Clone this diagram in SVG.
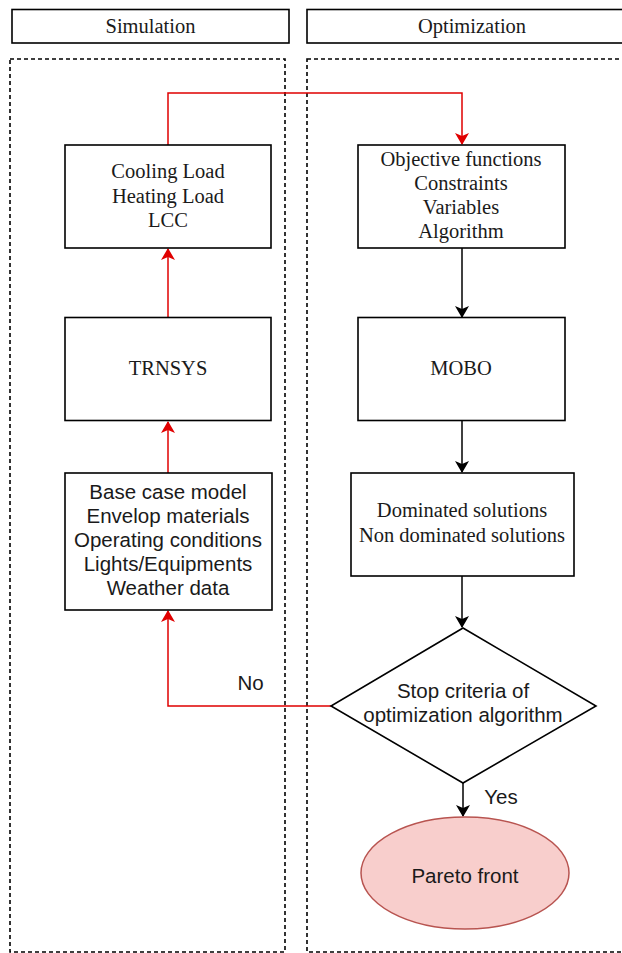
<svg xmlns="http://www.w3.org/2000/svg" width="622" height="953" viewBox="0 0 622 953">
<defs>
<style>
.box{fill:#fff;stroke:#000;stroke-width:1.6}
.dash{fill:none;stroke:#000;stroke-width:1.6;stroke-dasharray:4 3}
.serif{font-family:"Liberation Serif","Times New Roman",serif;font-size:20.5px;fill:#1a1a1a;text-anchor:middle}
.sans{font-family:"Liberation Sans",Arial,sans-serif;font-size:20.5px;fill:#1a1a1a;text-anchor:middle}
.red{fill:none;stroke:#e00000;stroke-width:1.5}
.blk{fill:none;stroke:#000;stroke-width:1.5}
</style>
<marker id="ar" viewBox="0 0 12 14" refX="11" refY="7" markerWidth="12" markerHeight="14" markerUnits="userSpaceOnUse" orient="auto">
<path d="M0,0 L12,7 L0,14 L3,7 Z" fill="#e00000"/>
</marker>
<marker id="ab" viewBox="0 0 12 14" refX="11" refY="7" markerWidth="12" markerHeight="14" markerUnits="userSpaceOnUse" orient="auto">
<path d="M0,0 L12,7 L0,14 L3,7 Z" fill="#000"/>
</marker>
</defs>
<rect width="622" height="953" fill="#fff"/>
<g id="lane-simulation">
<rect class="box" x="12" y="9.5" width="277" height="33.5"/>
<text class="serif" x="150.5" y="33">Simulation</text>
<rect class="dash" x="10" y="59" width="275" height="893"/>
</g>
<g id="lane-optimization">
<rect class="box" x="307" y="9.5" width="330" height="33.5"/>
<text class="serif" x="472" y="33">Optimization</text>
<rect class="dash" x="307" y="59" width="330" height="893"/>
</g>
<g id="connectors">
<path class="red" d="M168,145 V93 H462 V144" marker-end="url(#ar)"/>
<path class="red" d="M168,317 V249" marker-end="url(#ar)"/>
<path class="red" d="M168,473 V422" marker-end="url(#ar)"/>
<path class="red" d="M331,706 H168 V611" marker-end="url(#ar)"/>
<path class="blk" d="M462,248 V317" marker-end="url(#ab)"/>
<path class="blk" d="M462,421 V472" marker-end="url(#ab)"/>
<path class="blk" d="M462,576 V627" marker-end="url(#ab)"/>
<path class="blk" d="M463,783 V816" marker-end="url(#ab)"/>
<text class="sans" x="250.5" y="690">No</text>
<text class="sans" x="501" y="804">Yes</text>
</g>
<g id="node-results">
<rect class="box" x="65" y="145" width="206" height="103"/>
<text class="serif" x="168" y="178">Cooling Load</text>
<text class="serif" x="168" y="203">Heating Load</text>
<text class="serif" x="168" y="227">LCC</text>
</g>
<g id="node-trnsys">
<rect class="box" x="65" y="317.5" width="206" height="103"/>
<text class="serif" x="168" y="375">TRNSYS</text>
</g>
<g id="node-inputs">
<rect class="box" x="65" y="473" width="207" height="137"/>
<text class="sans" x="168" y="499">Base case model</text>
<text class="sans" x="168" y="523">Envelop materials</text>
<text class="sans" x="168" y="547">Operating conditions</text>
<text class="sans" x="168" y="571">Lights/Equipments</text>
<text class="sans" x="168" y="595">Weather data</text>
</g>
<g id="node-setup">
<rect class="box" x="358" y="145" width="207" height="103"/>
<text class="serif" x="461" y="166">Objective functions</text>
<text class="serif" x="461" y="190">Constraints</text>
<text class="serif" x="461" y="214">Variables</text>
<text class="serif" x="461" y="238">Algorithm</text>
</g>
<g id="node-mobo">
<rect class="box" x="358" y="317.5" width="207" height="103"/>
<text class="serif" x="461" y="375">MOBO</text>
</g>
<g id="node-solutions">
<rect class="box" x="351" y="473" width="223" height="103"/>
<text class="serif" x="462" y="517">Dominated solutions</text>
<text class="serif" x="462" y="542">Non dominated solutions</text>
</g>
<g id="node-stop">
<polygon class="box" points="463,628 596,706 463,783 331,706"/>
<text class="sans" x="463" y="698">Stop criteria of</text>
<text class="sans" x="463" y="722">optimization algorithm</text>
</g>
<g id="node-pareto">
<ellipse cx="465" cy="873" rx="104" ry="56" fill="#f8cecc" stroke="#b85450" stroke-width="1.5"/>
<text class="sans" x="465" y="883">Pareto front</text>
</g>
</svg>
